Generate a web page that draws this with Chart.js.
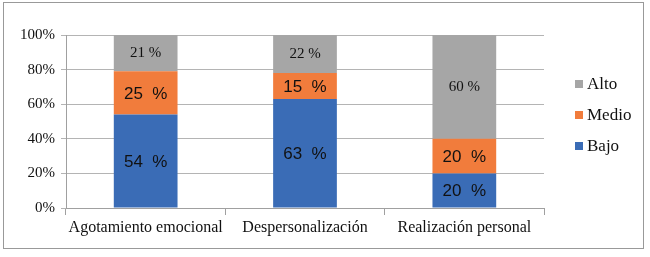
<!DOCTYPE html>
<html>
<head>
<meta charset="utf-8">
<script src="https://cdn.jsdelivr.net/npm/chart.js@4/dist/chart.umd.min.js"></script>
<style>
body { margin: 0; background: #fff; }
#wrap { position: relative; width: 650px; height: 257px; }
#frame { position: absolute; left: 3px; top: 2px; width: 639px; height: 245px; border: 1px solid #999; pointer-events: none; }
</style>
</head>
<body>
<div id="wrap">
<canvas id="chart" width="650" height="257"></canvas>
<div id="frame"></div>
</div>
<script>

// data
const categories = ["Agotamiento emocional", "Despersonalización", "Realización personal"];
const bajo = [54, 63, 20];
const medio = [25, 15, 20];
const alto = [21, 22, 60];
const yTicks = [0, 20, 40, 60, 80, 100];

const serif = "'Liberation Serif', 'Times New Roman', serif";
const sans = "'Liberation Sans', Arial, sans-serif";

// labels inside the bars
const barLabels = {
    id: "barLabels",
    afterDatasetsDraw(chart){
        const ctx = chart.ctx;
        chart.data.datasets.forEach((ds, i) => {
            const meta = chart.getDatasetMeta(i);
            meta.data.forEach((bar, j) => {
                const y = (bar.y + bar.base) / 2;
                ctx.save();
                ctx.fillStyle = "#111";
                ctx.textAlign = "center";
                ctx.textBaseline = "middle";
                if(ds.label === "Alto"){
                    ctx.font = "15px " + serif;
                    ctx.fillText(ds.data[j] + " %", bar.x, y);
                } else {
                    ctx.font = "17px " + sans;
                    ctx.fillText(ds.data[j] + "  %", bar.x, y + 1);
                }
                ctx.restore();
            });
        });
    }
};

// legend on the right, top item = last dataset
const sideLegend = {
    id: "sideLegend",
    afterDraw(chart){
        const ctx = chart.ctx;
        const items = chart.data.datasets.slice().reverse();
        items.forEach((ds, k) => {
            const y = 84 + k * 31;
            ctx.save();
            ctx.fillStyle = ds.backgroundColor;
            ctx.fillRect(575, y - 4, 8, 8);
            ctx.fillStyle = "#111";
            ctx.font = "17px " + serif;
            ctx.textBaseline = "middle";
            ctx.fillText(ds.label, 587, y + 1);
            ctx.restore();
        });
    }
};

new Chart(
    document.getElementById("chart"),
    {
        type: "bar",
        data: {
            labels: categories,
            datasets: [
                { label: "Bajo", data: bajo, backgroundColor: "#3a6cb6" },
                { label: "Medio", data: medio, backgroundColor: "#f17c3c" },
                { label: "Alto", data: alto, backgroundColor: "#a6a6a6" }
            ]
        },
        options: {
            responsive: false,
            animation: false,
            layout: { padding: { left: 6, right: 106, top: 35, bottom: 0 } },
            plugins: {
                legend: { display: false },
                tooltip: { enabled: false }
            },
            datasets: {
                bar: { barPercentage: 0.4, categoryPercentage: 1 }
            },
            scales: {
                x: {
                    stacked: true,
                    afterFit(scale){ scale.height = 49; },
                    grid: {
                        offset: true,
                        drawOnChartArea: false,
                        tickLength: 7,
                        color: "#a0a0a0"
                    },
                    border: { color: "#a0a0a0" },
                    ticks: {
                        color: "#111",
                        padding: 3,
                        font: { family: serif, size: 16 },
                        maxRotation: 0,
                        autoSkip: false
                    }
                },
                y: {
                    stacked: true,
                    min: 0,
                    max: 100,
                    afterFit(scale){ scale.width = 60; },
                    afterBuildTicks(scale){
                        scale.ticks = yTicks.map(v => ({ value: v }));
                    },
                    grid: {
                        color: "#b4b4b4",
                        tickLength: 5
                    },
                    border: { color: "#a0a0a0" },
                    ticks: {
                        color: "#111",
                        padding: 6,
                        font: { family: serif, size: 15 },
                        callback: v => v + "%"
                    }
                }
            }
        },
        plugins: [barLabels, sideLegend]
    }
);
</script>
</body>
</html>
